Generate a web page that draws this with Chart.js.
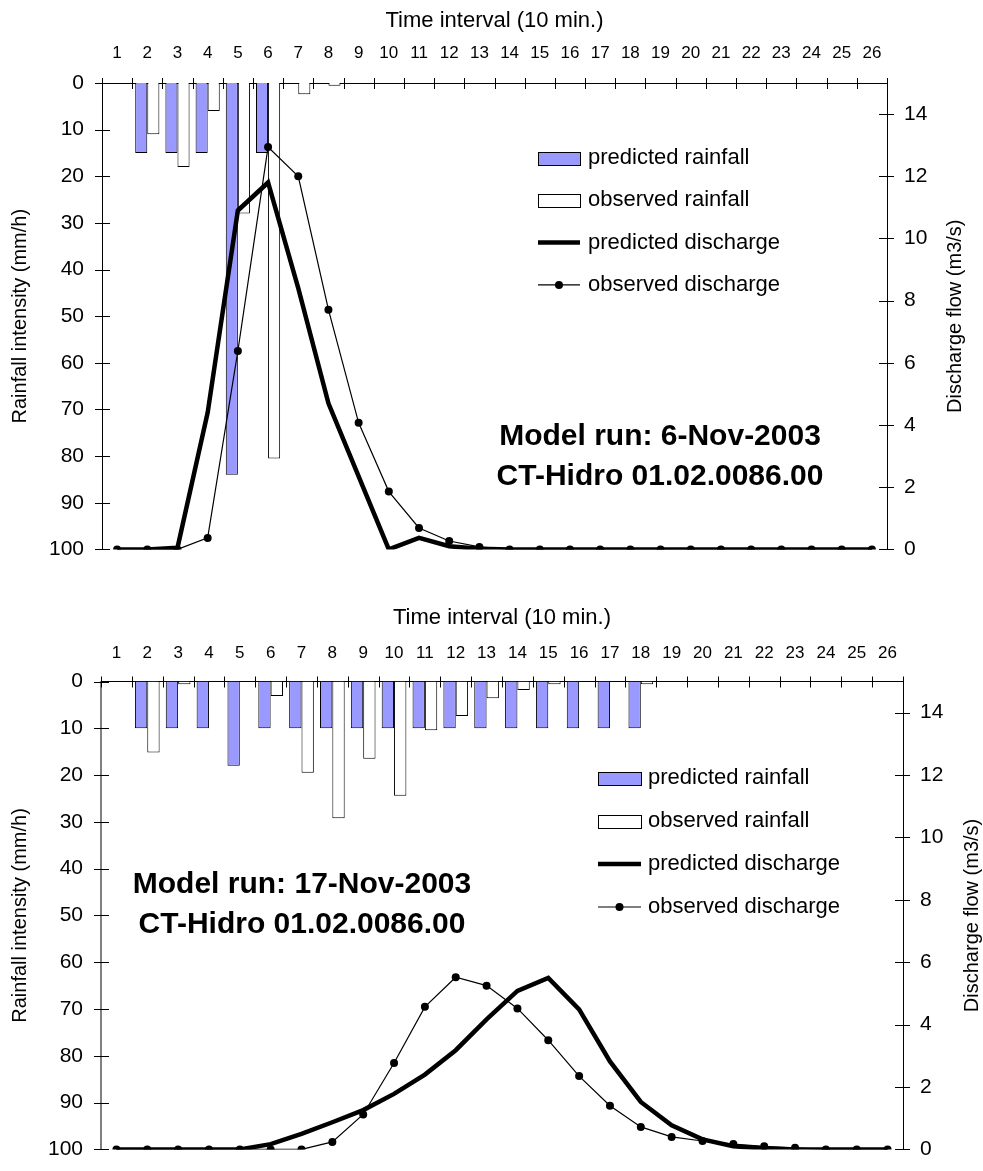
<!DOCTYPE html>
<html>
<head>
<meta charset="utf-8">
<title>Predicted and observed rainfall / discharge</title>
<script src="https://cdn.jsdelivr.net/npm/chart.js@4.4.1/dist/chart.umd.min.js"></script>
<style>
  html, body { margin: 0; padding: 0; background: #fff; overflow: hidden; }
  canvas { display: block; }
</style>
</head>
<body>
<canvas id="run1" width="983" height="580"></canvas>
<canvas id="run2" width="983" height="600"></canvas>
<script>
// time intervals (10 min.)
const intervals = ['1','2','3','4','5','6','7','8','9','10','11','12','13',
                   '14','15','16','17','18','19','20','21','22','23','24','25','26'];

// model run 6-Nov-2003 : rainfall in mm/h, discharge in m3/s
const predRain6Nov = [0, 15, 15, 15, 84, 15, 0, 0, 0, 0, 0, 0, 0, 0, 0, 0, 0, 0, 0, 0, 0, 0, 0, 0, 0, 0];
const obsRain6Nov  = [0, 11, 18, 6, 28, 80.5, 2.4, 0.6, 0, 0, 0, 0, 0, 0, 0, 0, 0, 0, 0, 0, 0, 0, 0, 0, 0, 0];
const predFlow6Nov = [0, 0, 0.05, 4.4, 10.9, 11.8, 8.4, 4.7, 2.35, 0, 0.37, 0.1, 0.02, 0, 0, 0, 0, 0, 0, 0, 0, 0, 0, 0, 0, 0];
const obsFlow6Nov  = [0, 0, 0, 0.37, 6.38, 12.94, 12.0, 7.71, 4.07, 1.86, 0.69, 0.27, 0.08, 0, 0, 0, 0, 0, 0, 0, 0, 0, 0, 0, 0, 0];

// model run 17-Nov-2003
const predRain17Nov = [0, 10, 10, 10, 18, 10, 10, 10, 10, 10, 10, 10, 10, 10, 10, 10, 10, 10, 0, 0, 0, 0, 0, 0, 0, 0];
const obsRain17Nov  = [0, 15.2, 0.6, 0, 0, 3.1, 19.5, 29.2, 16.5, 24.4, 10.4, 7.4, 3.6, 1.8, 0.6, 0, 0, 0.6, 0, 0, 0, 0, 0, 0, 0, 0];
const predFlow17Nov = [0, 0, 0, 0, 0, 0.17, 0.5, 0.87, 1.26, 1.78, 2.4, 3.18, 4.17, 5.08, 5.5, 4.49, 2.82, 1.52, 0.77, 0.32, 0.1, 0.03, 0, 0, 0, 0];
const obsFlow17Nov  = [0, 0, 0, 0, 0, 0, 0, 0.24, 1.12, 2.77, 4.57, 5.52, 5.25, 4.52, 3.5, 2.35, 1.4, 0.72, 0.4, 0.27, 0.17, 0.1, 0.05, 0, 0, 0];

const rainTicks = { min: 0, max: 100, step: 10 };
const flowTicks = { min: 0, max: 15, step: 2 };

const FONT = '"Liberation Sans", Arial, Helvetica, sans-serif';
const BLUE = '#9999ff';

Chart.defaults.font.family = FONT;
Chart.defaults.color = '#000';

// tick marks crossing the axes, legend box, right title and the run note
const decorations = {
  id: 'decorations',
  afterDatasetsDraw(chart, args, opts) {
    const ctx = chart.ctx;
    const a = chart.chartArea;
    const x = chart.scales.x, y = chart.scales.y, y2 = chart.scales.y2;
    const step = x.getPixelForValue(1) - x.getPixelForValue(0);

    ctx.save();
    ctx.strokeStyle = '#000';
    ctx.lineWidth = 1;
    ctx.beginPath();
    for (let i = 0; i <= x.ticks.length; i++) {
      const px = Math.round(x.getPixelForValue(i) - step / 2) + 0.5;
      ctx.moveTo(px, a.top - 5);
      ctx.lineTo(px, a.top + 6);
    }
    y.ticks.forEach(t => {
      const py = Math.round(y.getPixelForValue(t.value)) + 0.5;
      ctx.moveTo(a.left - 7, py);
      ctx.lineTo(a.left + 8, py);
    });
    y2.ticks.forEach(t => {
      const py = Math.round(y2.getPixelForValue(t.value)) + 0.5;
      ctx.moveTo(a.right - 8, py);
      ctx.lineTo(a.right + 7, py);
    });
    ctx.stroke();

    // legend
    const lg = opts.legend;
    ctx.font = '22px ' + FONT;
    ctx.textBaseline = 'middle';
    ctx.textAlign = 'left';
    chart.data.datasets.forEach((ds, i) => {
      const cy = lg.y + i * lg.gap;
      if (ds.type === 'line') {
        ctx.beginPath();
        ctx.lineWidth = ds.borderWidth;
        ctx.strokeStyle = ds.borderColor;
        ctx.moveTo(lg.x, cy);
        ctx.lineTo(lg.x + lg.w, cy);
        ctx.stroke();
        if (ds.pointRadius) {
          ctx.beginPath();
          ctx.arc(lg.x + lg.w / 2, cy, ds.pointRadius, 0, Math.PI * 2);
          ctx.fillStyle = ds.pointBackgroundColor;
          ctx.fill();
        }
      } else {
        ctx.fillStyle = ds.backgroundColor;
        ctx.fillRect(lg.x, Math.round(cy - lg.h / 2), lg.w, lg.h);
        ctx.lineWidth = 1;
        ctx.strokeStyle = '#000';
        ctx.strokeRect(lg.x + 0.5, Math.round(cy - lg.h / 2) + 0.5, lg.w, lg.h);
      }
      ctx.fillStyle = '#000';
      ctx.fillText(ds.label, lg.x + lg.w + lg.textGap, cy);
    });

    // right axis title, read bottom to top
    ctx.save();
    ctx.translate(opts.rightTitle.x, (a.top + a.bottom) / 2);
    ctx.rotate(-Math.PI / 2);
    ctx.textAlign = 'center';
    ctx.font = '20px ' + FONT;
    ctx.fillText(opts.rightTitle.text, 0, 0);
    ctx.restore();

    // run note
    ctx.font = 'bold 30px ' + FONT;
    ctx.textAlign = 'center';
    opts.note.lines.forEach((line, i) => {
      ctx.fillText(line, opts.note.x, opts.note.y + i * opts.note.gap);
    });
    ctx.restore();
  }
};

function buildChart(id, rainPred, rainObs, flowPred, flowObs, look) {
  return new Chart(document.getElementById(id), {
    type: 'bar',
    data: {
      labels: intervals,
      datasets: [
        { type: 'bar', label: 'predicted rainfall', data: rainPred, yAxisID: 'y',
          backgroundColor: BLUE, borderColor: '#000', borderWidth: 1,
          categoryPercentage: 0.8, barPercentage: 1, order: 2 },
        { type: 'bar', label: 'observed rainfall', data: rainObs, yAxisID: 'y',
          backgroundColor: '#fff', borderColor: '#000', borderWidth: 1,
          categoryPercentage: 0.8, barPercentage: 1, order: 3 },
        { type: 'line', label: 'predicted discharge', data: flowPred, yAxisID: 'y2',
          borderColor: '#000', borderWidth: 4.5, pointRadius: 0, tension: 0, order: 1 },
        { type: 'line', label: 'observed discharge', data: flowObs, yAxisID: 'y2',
          borderColor: '#000', borderWidth: 1.2, pointRadius: 4,
          pointBackgroundColor: '#000', pointBorderWidth: 0, tension: 0, order: 0 }
      ]
    },
    options: {
      responsive: false,
      animation: false,
      events: [],
      layout: { padding: { top: 0, left: 0, right: 0, bottom: look.padBottom } },
      plugins: {
        legend: { display: false },
        tooltip: { enabled: false },
        decorations: {
          legend: look.legend,
          rightTitle: { text: 'Discharge flow (m3/s)', x: look.rightTitleX },
          note: look.note
        }
      },
      scales: {
        x: {
          position: 'top',
          offset: true,
          grid: { display: false, drawTicks: false },
          border: { color: '#000', width: 1 },
          ticks: { font: { size: 17 }, padding: look.xPad, autoSkip: false, maxRotation: 0 },
          title: { display: true, text: 'Time interval (10 min.)', font: { size: 22 },
                   padding: { top: look.xTitlePad, bottom: 0 } },
          afterFit: s => { s.height = look.top; }
        },
        y: {
          position: 'left',
          reverse: true,
          min: rainTicks.min,
          max: rainTicks.max,
          grid: { display: false, drawTicks: false },
          border: { color: look.leftAxis.color, width: look.leftAxis.width },
          ticks: { stepSize: rainTicks.step, font: { size: 21 }, padding: 18 },
          title: { display: true, text: 'Rainfall intensity (mm/h)', font: { size: 20 },
                   padding: { top: 8, bottom: 0 } },
          afterFit: s => { s.width = look.left; }
        },
        y2: {
          position: 'right',
          min: flowTicks.min,
          max: flowTicks.max,
          grid: { display: false, drawTicks: false },
          border: { color: '#000', width: 1 },
          ticks: { stepSize: flowTicks.step, includeBounds: false, font: { size: 21 }, padding: 17 },
          afterBuildTicks: s => { s.ticks = s.ticks.filter(t => t.value % flowTicks.step === 0); },
          afterFit: s => { s.width = look.rightWidth; }
        }
      }
    },
    plugins: [decorations]
  });
}

buildChart('run1', predRain6Nov, obsRain6Nov, predFlow6Nov, obsFlow6Nov, {
  top: 83, left: 102, rightWidth: 96, padBottom: 27,
  xPad: 19, xTitlePad: 8,
  leftAxis: { color: '#000', width: 1 },
  rightTitleX: 955,
  legend: { x: 538, y: 158, gap: 42.3, w: 42, h: 13, textGap: 8 },
  note: { lines: ['Model run: 6-Nov-2003', 'CT-Hidro 01.02.0086.00'], x: 660, y: 437, gap: 40 }
});

buildChart('run2', predRain17Nov, obsRain17Nov, predFlow17Nov, obsFlow17Nov, {
  top: 101.5, left: 101, rightWidth: 80, padBottom: 18,
  xPad: 18, xTitlePad: 25,
  leftAxis: { color: '#808080', width: 2 },
  rightTitleX: 972,
  legend: { x: 598, y: 198, gap: 43, w: 43, h: 13, textGap: 7 },
  note: { lines: ['Model run: 17-Nov-2003', 'CT-Hidro 01.02.0086.00'], x: 302, y: 305, gap: 40 }
});
</script>
</body>
</html>
